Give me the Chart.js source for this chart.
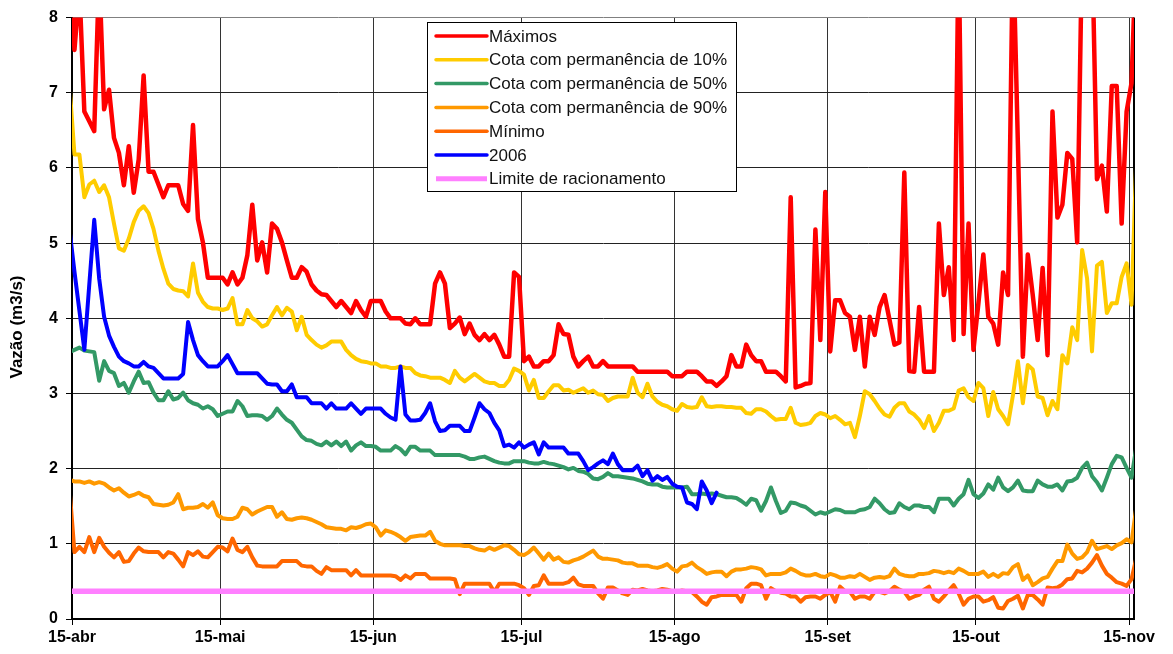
<!DOCTYPE html>
<html lang="pt-BR">
<head>
<meta charset="UTF-8">
<title>Vazão - cotas de permanência</title>
<script src="https://cdn.jsdelivr.net/npm/chart.js"></script>
<style>
  html, body { margin: 0; padding: 0; background: #fff; }
  #grafico { display: block; }
</style>
</head>
<body>
<canvas id="grafico" width="1173" height="654"></canvas>
<script>
// dia 0 = 15-abr; as séries diárias começam em 14-abr (dia -1) e vão até 16-nov (dia 215)
const primeiroDia = -1;
const rotulosX = ['15-abr', '15-mai', '15-jun', '15-jul', '15-ago', '15-set', '15-out', '15-nov'];
const diasRotulos = [0, 30, 61, 91, 122, 153, 183, 214];

const maximos = [
  9.0,
  7.57, 8.4, 6.75, 6.62, 6.49, 8.6, 6.78, 7.04, 6.40, 6.20,
  5.77, 6.29, 5.67, 6.11, 7.23, 5.95, 5.95, 5.78, 5.61, 5.77,
  5.77, 5.77, 5.52, 5.43, 6.57, 5.32, 5.01, 4.54, 4.54, 4.54,
  4.54, 4.45, 4.61, 4.45, 4.54, 4.84, 5.51, 4.77, 5.01, 4.61,
  5.26, 5.19, 5.01, 4.77, 4.54, 4.54, 4.68, 4.62, 4.45, 4.37,
  4.32, 4.31, 4.23, 4.15, 4.23, 4.15, 4.07, 4.23, 4.11, 4.02,
  4.23, 4.23, 4.23, 4.09, 4.00, 4.00, 4.00, 3.93, 3.92, 4.00,
  3.92, 3.92, 3.92, 4.46, 4.61, 4.46, 3.87, 3.93, 4.01, 3.79,
  3.93, 3.78, 3.71, 3.79, 3.71, 3.78, 3.65, 3.49, 3.49, 4.61,
  4.55, 3.43, 3.49, 3.36, 3.36, 3.43, 3.43, 3.51, 3.92, 3.79,
  3.78, 3.49, 3.36, 3.43, 3.49, 3.36, 3.36, 3.43, 3.36, 3.36,
  3.36, 3.36, 3.36, 3.36, 3.29, 3.29, 3.29, 3.29, 3.29, 3.29,
  3.29, 3.23, 3.23, 3.23, 3.29, 3.29, 3.29, 3.23, 3.16, 3.16,
  3.10, 3.16, 3.23, 3.51, 3.36, 3.36, 3.65, 3.51, 3.43, 3.43,
  3.29, 3.29, 3.29, 3.23, 3.16, 5.61, 3.08, 3.10, 3.13, 3.14,
  5.18, 3.71, 5.68, 3.56, 4.24, 4.24, 4.07, 4.02, 3.58, 4.02,
  3.36, 4.02, 3.78, 4.15, 4.31, 3.98, 3.65, 3.68, 5.94, 3.30,
  3.29, 4.15, 3.29, 3.29, 3.29, 5.26, 4.31, 4.68, 3.71, 9.0,
  3.79, 5.26, 3.58, 4.20, 4.85, 4.02, 3.93, 3.65, 4.61, 4.31,
  9.0, 6.3, 3.49, 4.85, 4.31, 3.71, 4.67, 3.51, 6.75, 5.34,
  5.51, 6.20, 6.12, 5.01, 9.0, 10.0, 9.0, 5.85, 6.03, 5.42,
  7.09, 7.09, 5.26, 6.75, 7.13, 9.0
];

const cota10 = [
  7.1,
  6.18, 6.18, 5.61, 5.78, 5.83, 5.68, 5.77, 5.61, 5.26, 4.93,
  4.90, 5.06, 5.28, 5.43, 5.49, 5.40, 5.19, 4.90, 4.66, 4.46,
  4.39, 4.37, 4.36, 4.29, 4.73, 4.34, 4.22, 4.15, 4.13, 4.13,
  4.11, 4.13, 4.27, 3.92, 3.92, 4.11, 4.00, 3.96, 3.89, 3.92,
  4.04, 4.15, 4.04, 4.14, 4.09, 3.84, 4.02, 3.78, 3.71, 3.65,
  3.61, 3.64, 3.69, 3.69, 3.69, 3.58, 3.51, 3.46, 3.43, 3.42,
  3.40, 3.40, 3.36, 3.36, 3.34, 3.34, 3.36, 3.34, 3.34, 3.27,
  3.24, 3.23, 3.21, 3.21, 3.21, 3.18, 3.14, 3.30, 3.21, 3.16,
  3.21, 3.26, 3.21, 3.16, 3.14, 3.14, 3.10, 3.10, 3.18, 3.33,
  3.30, 3.25, 3.04, 3.18, 2.94, 2.94, 3.03, 3.11, 3.11, 3.04,
  3.05, 3.01, 3.04, 3.07, 3.01, 3.04, 2.99, 2.98, 2.90, 2.94,
  2.96, 2.96, 2.96, 3.21, 3.01, 2.95, 3.13, 2.96, 2.89, 2.85,
  2.83, 2.79, 2.77, 2.86, 2.82, 2.81, 2.82, 2.95, 2.83, 2.82,
  2.83, 2.83, 2.82, 2.82, 2.81, 2.81, 2.74, 2.73, 2.79, 2.79,
  2.76, 2.70, 2.65, 2.66, 2.66, 2.81, 2.61, 2.58, 2.59, 2.61,
  2.70, 2.74, 2.72, 2.67, 2.70, 2.65, 2.59, 2.61, 2.42, 2.70,
  3.03, 2.99, 2.90, 2.80, 2.72, 2.69, 2.81, 2.87, 2.87, 2.76,
  2.72, 2.65, 2.54, 2.70, 2.50, 2.61, 2.77, 2.77, 2.80, 3.04,
  3.07, 2.95, 2.90, 3.14, 3.07, 2.70, 3.02, 2.79, 2.70, 2.59,
  2.98, 3.43, 2.87, 3.38, 3.32, 2.96, 2.94, 2.71, 2.90, 2.79,
  3.51, 3.40, 3.88, 3.71, 4.91, 4.53, 3.56, 4.70, 4.75, 4.07,
  4.20, 4.20, 4.55, 4.73, 4.18, 6.2
];

const cota50 = [
  3.55,
  3.58, 3.61, 3.57, 3.56, 3.55, 3.17, 3.43, 3.30, 3.27, 3.10,
  3.14, 3.01, 3.16, 3.29, 3.14, 3.15, 3.01, 2.91, 2.91, 3.03,
  2.92, 2.94, 3.01, 2.91, 2.87, 2.85, 2.80, 2.83, 2.79, 2.70,
  2.73, 2.76, 2.76, 2.90, 2.83, 2.70, 2.71, 2.71, 2.70, 2.65,
  2.70, 2.80, 2.72, 2.65, 2.61, 2.52, 2.43, 2.38, 2.37, 2.33,
  2.31, 2.36, 2.31, 2.36, 2.30, 2.36, 2.24, 2.31, 2.35, 2.30,
  2.30, 2.29, 2.24, 2.24, 2.24, 2.30, 2.26, 2.19, 2.29, 2.29,
  2.24, 2.24, 2.24, 2.18, 2.18, 2.18, 2.18, 2.18, 2.18, 2.16,
  2.13, 2.13, 2.15, 2.16, 2.13, 2.10, 2.08, 2.07, 2.07, 2.10,
  2.10, 2.10, 2.08, 2.07, 2.07, 2.09, 2.07, 2.06, 2.04, 2.02,
  1.99, 2.01, 1.97, 1.96, 1.93, 1.87, 1.86, 1.89, 1.94, 1.90,
  1.90, 1.89, 1.88, 1.87, 1.85, 1.83, 1.80, 1.79, 1.79, 1.76,
  1.75, 1.75, 1.75, 1.75, 1.76, 1.66, 1.66, 1.67, 1.66, 1.67,
  1.66, 1.64, 1.62, 1.62, 1.61, 1.57, 1.52, 1.60, 1.58, 1.44,
  1.57, 1.75, 1.57, 1.41, 1.44, 1.55, 1.54, 1.51, 1.49, 1.44,
  1.39, 1.42, 1.40, 1.43, 1.46, 1.45, 1.42, 1.42, 1.42, 1.45,
  1.46, 1.49, 1.60, 1.54, 1.46, 1.41, 1.42, 1.54, 1.49, 1.46,
  1.51, 1.51, 1.49, 1.49, 1.42, 1.60, 1.60, 1.60, 1.51, 1.60,
  1.66, 1.85, 1.66, 1.61, 1.67, 1.79, 1.72, 1.88, 1.75, 1.70,
  1.75, 1.84, 1.71, 1.70, 1.70, 1.84, 1.79, 1.76, 1.76, 1.79,
  1.71, 1.83, 1.84, 1.88, 2.01, 2.08, 1.90, 1.82, 1.71, 1.88,
  2.06, 2.17, 2.15, 2.01, 1.88, 2.3
];

const cota90 = [
  1.85,
  1.83, 1.83, 1.81, 1.83, 1.80, 1.82, 1.80, 1.75, 1.71, 1.74,
  1.68, 1.63, 1.65, 1.68, 1.64, 1.62, 1.53, 1.52, 1.51, 1.52,
  1.55, 1.66, 1.46, 1.48, 1.48, 1.49, 1.53, 1.48, 1.55, 1.38,
  1.34, 1.33, 1.33, 1.36, 1.48, 1.46, 1.39, 1.43, 1.46, 1.49,
  1.49, 1.36, 1.42, 1.33, 1.32, 1.34, 1.35, 1.34, 1.32, 1.29,
  1.26, 1.22, 1.21, 1.20, 1.20, 1.18, 1.22, 1.21, 1.23, 1.26,
  1.27, 1.22, 1.11, 1.18, 1.16, 1.13, 1.09, 1.04, 1.09, 1.10,
  1.11, 1.11, 1.16, 1.04, 1.00, 0.98, 0.98, 0.98, 0.98, 0.97,
  0.97, 0.94, 0.92, 0.91, 0.95, 0.92, 0.95, 0.98, 0.97, 0.92,
  0.86, 0.85, 0.89, 0.95, 0.87, 0.79, 0.87, 0.79, 0.82, 0.76,
  0.75, 0.78, 0.80, 0.83, 0.87, 0.91, 0.83, 0.80, 0.80, 0.79,
  0.78, 0.75, 0.74, 0.74, 0.71, 0.71, 0.71, 0.69, 0.68, 0.70,
  0.73, 0.67, 0.63, 0.70, 0.71, 0.75, 0.69, 0.65, 0.60, 0.62,
  0.63, 0.63, 0.57, 0.63, 0.66, 0.66, 0.67, 0.69, 0.68, 0.66,
  0.58, 0.60, 0.60, 0.60, 0.62, 0.67, 0.64, 0.60, 0.58, 0.58,
  0.60, 0.57, 0.56, 0.60, 0.58, 0.55, 0.55, 0.57, 0.56, 0.60,
  0.56, 0.52, 0.55, 0.56, 0.55, 0.57, 0.67, 0.60, 0.58, 0.57,
  0.57, 0.60, 0.60, 0.61, 0.64, 0.63, 0.61, 0.63, 0.61, 0.67,
  0.64, 0.60, 0.60, 0.60, 0.63, 0.56, 0.60, 0.56, 0.61, 0.60,
  0.69, 0.73, 0.52, 0.58, 0.45, 0.49, 0.54, 0.56, 0.67, 0.77,
  0.77, 0.99, 0.87, 0.80, 0.82, 0.89, 1.04, 0.93, 0.95, 0.97,
  0.93, 0.98, 1.01, 1.06, 1.02, 1.5
];

const minimo = [
  1.73,
  0.89, 0.96, 0.89, 1.09, 0.89, 1.08, 0.96, 0.88, 0.82, 0.89,
  0.76, 0.77, 0.87, 0.95, 0.90, 0.89, 0.89, 0.89, 0.82, 0.89,
  0.87, 0.79, 0.70, 0.89, 0.85, 0.90, 0.83, 0.82, 0.89, 0.96,
  0.95, 0.90, 1.07, 0.92, 0.89, 0.96, 0.82, 0.71, 0.70, 0.70,
  0.70, 0.70, 0.77, 0.77, 0.77, 0.77, 0.71, 0.70, 0.70, 0.64,
  0.60, 0.69, 0.65, 0.65, 0.65, 0.65, 0.58, 0.65, 0.58, 0.58,
  0.58, 0.58, 0.58, 0.58, 0.58, 0.57, 0.52, 0.58, 0.54, 0.60,
  0.60, 0.60, 0.54, 0.54, 0.54, 0.54, 0.54, 0.53, 0.33, 0.47,
  0.47, 0.47, 0.47, 0.47, 0.47, 0.36, 0.47, 0.47, 0.47, 0.47,
  0.45, 0.41, 0.32, 0.44, 0.45, 0.58, 0.47, 0.47, 0.47, 0.47,
  0.49, 0.55, 0.46, 0.44, 0.44, 0.44, 0.34, 0.27, 0.42, 0.42,
  0.38, 0.34, 0.32, 0.39, 0.38, 0.40, 0.38, 0.37, 0.38, 0.40,
  0.39, 0.37, 0.36, 0.38, 0.37, 0.36, 0.30, 0.23, 0.19, 0.29,
  0.30, 0.32, 0.32, 0.32, 0.32, 0.23, 0.41, 0.47, 0.47, 0.45,
  0.27, 0.41, 0.37, 0.35, 0.34, 0.30, 0.30, 0.23, 0.29, 0.30,
  0.30, 0.27, 0.32, 0.36, 0.23, 0.43, 0.37, 0.36, 0.27, 0.30,
  0.30, 0.27, 0.36, 0.36, 0.34, 0.37, 0.43, 0.39, 0.36, 0.27,
  0.30, 0.32, 0.39, 0.43, 0.27, 0.23, 0.30, 0.38, 0.45, 0.34,
  0.19, 0.27, 0.30, 0.30, 0.23, 0.25, 0.29, 0.15, 0.14, 0.24,
  0.27, 0.31, 0.14, 0.32, 0.32, 0.26, 0.19, 0.42, 0.41, 0.42,
  0.46, 0.53, 0.54, 0.64, 0.62, 0.67, 0.75, 0.85, 0.71, 0.60,
  0.55, 0.49, 0.47, 0.44, 0.53, 0.82
];

const ano2006 = [
  5.18,
  4.62, 4.10, 3.58, 4.45, 5.31, 4.53, 4.02, 3.77, 3.62, 3.49,
  3.43, 3.40, 3.36, 3.36, 3.42, 3.36, 3.34, 3.27, 3.20, 3.20,
  3.20, 3.20, 3.26, 3.95, 3.71, 3.51, 3.43, 3.36, 3.36, 3.36,
  3.43, 3.51, 3.39, 3.27, 3.27, 3.27, 3.27, 3.27, 3.20, 3.13,
  3.12, 3.12, 3.03, 3.03, 3.12, 2.95, 2.95, 2.95, 2.87, 2.87,
  2.87, 2.80, 2.87, 2.80, 2.80, 2.80, 2.87, 2.80, 2.73, 2.80,
  2.80, 2.80, 2.80, 2.73, 2.68, 2.65, 3.36, 2.72, 2.64, 2.64,
  2.65, 2.74, 2.87, 2.63, 2.50, 2.51, 2.57, 2.57, 2.57, 2.50,
  2.50, 2.68, 2.87, 2.79, 2.74, 2.61, 2.51, 2.30, 2.32, 2.28,
  2.35, 2.28, 2.32, 2.35, 2.19, 2.35, 2.28, 2.28, 2.28, 2.28,
  2.20, 2.20, 2.20, 2.10, 1.98, 2.02, 2.07, 2.11, 2.06, 2.20,
  2.06, 1.98, 1.98, 1.98, 2.04, 1.90, 1.98, 1.84, 1.90, 1.85,
  1.89, 1.80, 1.76, 1.75, 1.55, 1.53, 1.46, 1.83, 1.71, 1.54,
  1.68
];

const limiteRacionamento = 0.37;

function serie(valores) {
  return valores.map((v, i) => ({ x: primeiroDia + i, y: v }));
}

const fonte = '"Liberation Sans", Arial, sans-serif';
Chart.defaults.font.family = fonte;

const xMin = -0.5;
const xMax = 214.5;

// legenda dentro da área do gráfico, como no original
const legendaInterna = {
  id: 'legendaInterna',
  afterDraw(chart) {
    const ctx = chart.ctx;
    const bx = 427, by = 22, bw = 309, bh = 169;
    ctx.save();
    ctx.fillStyle = '#fff';
    ctx.fillRect(bx, by, bw, bh);
    ctx.strokeStyle = '#000';
    ctx.lineWidth = 1;
    ctx.strokeRect(bx + 0.5, by + 0.5, bw, bh);
    ctx.font = '17px ' + fonte;
    ctx.textBaseline = 'middle';
    chart.data.datasets.forEach((ds, i) => {
      const ly = by + 14 + i * 23.8;
      ctx.strokeStyle = ds.borderColor;
      ctx.lineWidth = i === 6 ? 5 : 3.5;
      ctx.lineCap = i === 6 ? 'butt' : 'round';
      ctx.beginPath();
      ctx.moveTo(bx + 9, ly);
      ctx.lineTo(bx + 60, ly);
      ctx.stroke();
      ctx.fillStyle = '#111';
      ctx.fillText(ds.label, bx + 62, ly + 1);
    });

    // título do eixo y
    ctx.font = 'bold 17px ' + fonte;
    ctx.fillStyle = '#000';
    ctx.textAlign = 'center';
    ctx.translate(17, 327);
    ctx.rotate(-Math.PI / 2);
    ctx.fillText('Vazão (m3/s)', 0, 0);
    ctx.restore();
  }
};

// moldura da área de plotagem
const moldura = {
  id: 'moldura',
  beforeDatasetsDraw(chart) {
    const { ctx, chartArea: a } = chart;
    ctx.save();
    ctx.strokeStyle = '#000';
    ctx.lineWidth = 2;
    ctx.beginPath();
    ctx.moveTo(a.right, a.top);
    ctx.lineTo(a.right, a.bottom);
    ctx.stroke();
    ctx.restore();
  }
};

new Chart(document.getElementById('grafico'), {
  type: 'line',
  data: {
    datasets: [
      { label: 'Máximos', data: serie(maximos), borderColor: '#FF0000', borderWidth: 4.5 },
      { label: 'Cota com permanência de 10%', data: serie(cota10), borderColor: '#FFCC00', borderWidth: 4 },
      { label: 'Cota com permanência de 50%', data: serie(cota50), borderColor: '#339966', borderWidth: 4 },
      { label: 'Cota com permanência de 90%', data: serie(cota90), borderColor: '#FF9900', borderWidth: 4 },
      { label: 'Mínimo', data: serie(minimo), borderColor: '#FF6600', borderWidth: 4 },
      { label: '2006', data: serie(ano2006), borderColor: '#0000FF', borderWidth: 4 },
      { label: 'Limite de racionamento', data: [{ x: xMin, y: limiteRacionamento }, { x: xMax, y: limiteRacionamento }],
        borderColor: '#FF80FF', borderWidth: 5.5, borderCapStyle: 'butt' }
    ].map((ds, i) => Object.assign({
      pointRadius: 0,
      pointHoverRadius: 0,
      tension: 0,
      fill: false,
      clip: 0,
      borderJoinStyle: 'round',
      borderCapStyle: 'round',
      order: 6 - i
    }, ds))
  },
  options: {
    responsive: false,
    animation: false,
    devicePixelRatio: 1,
    layout: { padding: { top: 14, right: 39, bottom: 0, left: 0 } },
    plugins: {
      legend: { display: false },
      tooltip: { enabled: false }
    },
    scales: {
      x: {
        type: 'linear',
        min: xMin,
        max: xMax,
        afterBuildTicks(scale) {
          scale.ticks = diasRotulos.map(d => ({ value: d - 0.5 }));
        },
        ticks: {
          autoSkip: false,
          maxRotation: 0,
          color: '#000',
          padding: 3,
          font: { size: 16, weight: 'bold' },
          callback: (v, i) => rotulosX[i]
        },
        grid: { color: '#333', lineWidth: 1, tickLength: 6, tickColor: '#000' },
        border: { color: '#000', width: 2 },
        afterFit(scale) { scale.height = 35; }
      },
      y: {
        min: 0,
        max: 8,
        ticks: {
          stepSize: 1,
          color: '#000',
          padding: 8,
          font: { size: 16, weight: 'bold' }
        },
        grid: {
          color: ctx => (ctx.tick && ctx.tick.value === 8 ? '#808080' : '#222'),
          lineWidth: 1,
          tickLength: 6,
          tickColor: '#000'
        },
        border: { color: '#000', width: 2 },
        afterFit(scale) { scale.width = 72; }
      }
    }
  },
  plugins: [moldura, legendaInterna]
});
</script>
</body>
</html>
